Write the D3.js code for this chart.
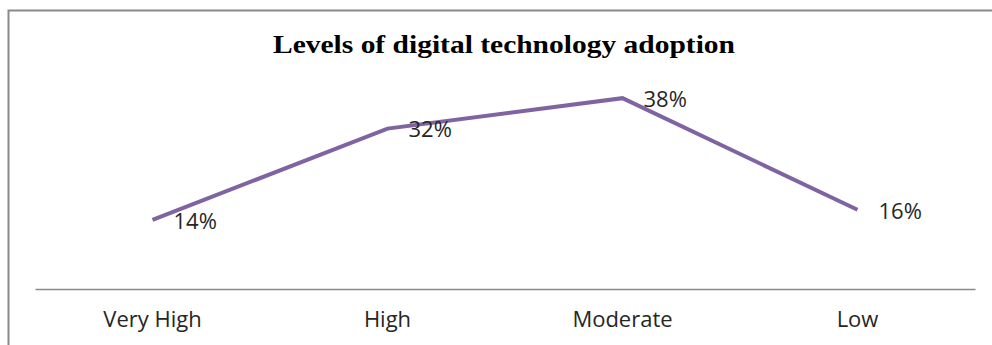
<!DOCTYPE html>
<html>
<head>
<meta charset="utf-8">
<script src="https://cdn.jsdelivr.net/npm/d3@7"></script>
<style>
    body { margin: 0; background: #fff; }
    svg { display: block; }
</style>
</head>
<body>
<div id="chart"></div>
<script>
const categories = ["Very High", "High", "Moderate", "Low"];
const values = [14, 32, 38, 16];
const valueLabels = ["14%", "32%", "38%", "16%"];
const title = "Levels of digital technology adoption";

const width = 992;
const height = 345;

const svg = d3.select("#chart").append("svg")
    .attr("width", width).attr("height", height);

// chart frame (runs off the right and bottom edges)
svg.append("rect")
    .attr("x", 8.5).attr("y", 10.5)
    .attr("width", 1000).attr("height", 400)
    .attr("fill", "none")
    .attr("stroke", "#8a8a8a")
    .attr("stroke-width", 2);

svg.append("text")
    .attr("x", 504).attr("y", 53)
    .attr("text-anchor", "middle")
    .attr("font-family", "'Liberation Serif', 'Times New Roman', serif")
    .attr("font-weight", "bold")
    .attr("font-size", 25)
    .attr("textLength", 462)
    .attr("lengthAdjust", "spacingAndGlyphs")
    .attr("fill", "#000")
    .text(title);

const x = d3.scaleBand().domain(categories).range([35, 975]);
const y = d3.scaleLinear().domain([0, 40]).range([291, 88]);

const data = categories.map((c, i) => ({cat: c, v: values[i], label: valueLabels[i]}));
const cx = d => x(d.cat) + x.bandwidth() / 2;

const axis = svg.append("g")
    .attr("transform", "translate(0,289)")
    .call(d3.axisBottom(x).tickSize(0).tickSizeOuter(0).tickPadding(22));

axis.select(".domain")
    .attr("stroke", "#8a8a8a")
    .attr("stroke-width", 1.3);

axis.selectAll(".tick text")
    .attr("font-family", "'Open Sans', sans-serif")
    .attr("font-size", 22)
    .attr("fill", "#262626");

svg.append("path")
    .datum(data)
    .attr("fill", "none")
    .attr("stroke", "#8064a2")
    .attr("stroke-width", 4)
    .attr("stroke-linejoin", "miter")
    .attr("d", d3.line().x(cx).y(d => y(d.v)));

svg.append("g")
    .selectAll("text")
    .data(data)
    .join("text")
    .attr("x", d => cx(d) + 21)
    .attr("y", d => y(d.v) + 1)
    .attr("dy", "0.35em")
    .attr("font-family", "'Open Sans', sans-serif")
    .attr("font-size", 22)
    .attr("fill", "#262626")
    .text(d => d.label);
</script>
</body>
</html>
